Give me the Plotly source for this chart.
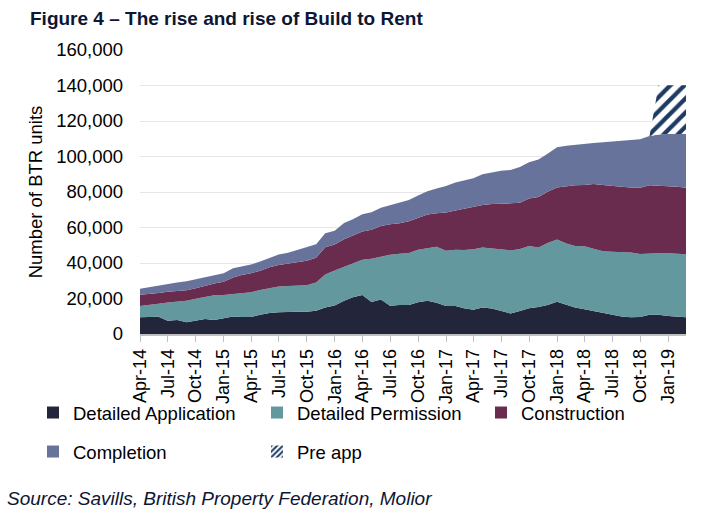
import pandas as pd
import plotly.graph_objects as go

months = pd.date_range("2014-04-01", periods=60, freq="MS")

# values in thousands of BTR units
detailed_application = [
    9.4, 9.6, 9.7, 7.5, 7.9, 6.6, 7.4, 8.5, 7.9, 8.7,
    9.9, 9.6, 9.6, 10.8, 11.8, 12.2, 12.6, 12.6, 12.6, 13.1,
    15.0, 16.0, 18.8, 20.7, 22.0, 18.0, 19.5, 15.9, 16.3, 16.3,
    17.9, 18.8, 17.6, 15.8, 15.8, 14.5, 13.7, 15.0, 14.3, 12.9,
    11.6, 12.9, 14.5, 15.2, 16.3, 18.2, 16.3, 15.0, 13.9, 12.9,
    12.1, 11.3, 9.9, 9.5, 9.6, 10.9, 10.9, 10.2, 9.9, 9.4]
detailed_permission = [
    6.4, 6.7, 7.3, 10.3, 10.4, 12.2, 12.4, 12.5, 13.9, 13.3,
    12.7, 13.3, 13.9, 14.0, 14.2, 14.6, 14.4, 14.4, 14.8, 15.9,
    18.5, 19.8, 19.2, 19.1, 19.9, 24.4, 24.2, 28.8, 28.9, 29.4,
    29.5, 29.6, 31.6, 31.1, 31.6, 32.8, 34.0, 33.8, 33.8, 34.6,
    35.5, 35.0, 35.1, 33.6, 35.0, 35.1, 34.7, 34.6, 35.6, 35.1,
    34.5, 35.0, 36.4, 36.4, 35.5, 34.6, 34.6, 35.3, 35.5, 35.6]
construction = [
    6.3, 6.1, 6.1, 6.0, 6.0, 5.8, 6.0, 6.2, 6.6, 7.5,
    9.3, 10.3, 10.7, 10.9, 11.6, 12.1, 12.8, 13.4, 13.9, 14.0,
    15.4, 14.6, 15.4, 15.7, 15.8, 16.3, 17.1, 17.2, 17.2, 17.8,
    17.8, 18.9, 18.8, 21.6, 22.2, 23.3, 23.7, 23.9, 25.1, 25.8,
    26.5, 26.1, 26.8, 28.4, 28.9, 29.3, 32.3, 34.2, 34.5, 36.5,
    37.4, 37.1, 36.7, 36.7, 37.3, 38.3, 37.9, 37.8, 37.6, 37.4]
completion = [
    3.4, 4.0, 4.1, 4.5, 4.7, 5.1, 5.0, 4.7, 4.7, 4.7,
    5.2, 4.9, 4.9, 5.1, 5.2, 5.9, 6.0, 6.9, 7.3, 7.5,
    7.8, 7.8, 9.2, 9.1, 9.7, 9.9, 10.3, 10.6, 11.4, 12.0,
    12.8, 13.1, 14.0, 14.9, 15.7, 15.7, 16.3, 17.3, 17.7, 18.7,
    18.8, 20.1, 20.4, 21.1, 21.4, 22.6, 22.7, 22.8, 23.2, 23.1,
    24.0, 25.0, 25.8, 26.7, 27.3, 27.7, 29.0, 29.4, 29.7, 30.3]
pre_app = [0.0] * 56 + [27.8, 27.5, 27.5, 27.5]

series_names = ["Detailed Application", "Detailed Permission", "Construction", "Completion", "Pre app"]
series_values = [detailed_application, detailed_permission, construction, completion, pre_app]
colors = ["#23263a", "#63989f", "#6a2c4e", "#68739b", "#1f3a60"]

FONT = "Liberation Sans, Arial, sans-serif"

fig = go.Figure()
for name, vals, col in zip(series_names, series_values, colors):
    y = [v * 1000 for v in vals]
    if name == "Pre app":
        fig.add_trace(go.Scatter(
            x=months, y=y, name=name, stackgroup="one", mode="lines",
            line=dict(width=0, color=col), fillcolor=col,
            fillpattern=dict(shape="/", fgcolor=col, bgcolor="white", fgopacity=1,
                             size=10, solidity=0.42),
            showlegend=False, hoverinfo="skip"))
    else:
        fig.add_trace(go.Scatter(
            x=months, y=y, name=name, stackgroup="one", mode="lines",
            line=dict(width=0, color=col), fillcolor=col,
            showlegend=False))

# legend entries (square swatches)
for k, (name, col) in enumerate(zip(series_names, colors)):
    marker = dict(color=col, line=dict(width=0))
    if name == "Pre app":
        marker = dict(color=col, line=dict(width=0),
                      pattern=dict(shape="/", fgcolor=col, bgcolor="white", fgopacity=1,
                                   size=5, solidity=0.5))
    fig.add_trace(go.Bar(x=[None], y=[None], name=name, marker=marker,
                         legend="legend" if k < 3 else "legend2", showlegend=True))

leg_common = dict(orientation="h", xanchor="left", yanchor="middle", traceorder="normal",
                  font=dict(family=FONT, size=18.5, color="black"),
                  entrywidth=179, entrywidthmode="pixels", bgcolor="rgba(0,0,0,0)",
                  itemsizing="constant")

fig.update_layout(
    width=721, height=519,
    margin=dict(l=140, r=35, t=50, b=185),
    paper_bgcolor="white", plot_bgcolor="white",
    font=dict(family=FONT, size=18.5, color="black"),
    title=dict(text="<b>Figure 4 – The rise and rise of Build to Rent</b>",
               x=30 / 721, xref="container", xanchor="left",
               y=1 - 18 / 519, yref="container", yanchor="middle",
               font=dict(family=FONT, size=19, color="#0d1633")),
    showlegend=True,
    legend=dict(x=(33 - 140) / 546, y=(334 - 413) / 284, **leg_common),
    legend2=dict(x=(33 - 140) / 546, y=(334 - 452) / 284, **leg_common),
    xaxis=dict(type="date", range=[months[0], months[-1]],
               tick0=months[0], dtick="M3", tickformat="%b-%y", tickangle=-90,
               ticks="outside", ticklen=6, tickcolor="#bfbfbf",
               showline=True, linecolor="#bfbfbf", linewidth=1.5,
               showgrid=False, tickfont=dict(family=FONT, size=18, color="black")),
    yaxis=dict(range=[0, 160000], dtick=20000, tickformat=",d",
               showgrid=True, gridcolor="#e6e6e6", gridwidth=1,
               zeroline=False, showline=False, ticks="",
               ticklabelstandoff=16,
               tickfont=dict(family=FONT, size=18.5, color="black"),
               title=dict(text="Number of BTR units", standoff=8,
                          font=dict(family=FONT, size=18.5, color="black"))),
    annotations=[dict(text="<i>Source: Savills, British Property Federation, Molior</i>",
                      xref="paper", yref="paper", x=(5 - 140) / 546, y=(334 - 498) / 284,
                      xanchor="left", yanchor="middle", showarrow=False,
                      font=dict(family=FONT, size=19, color="#0d1633"))],
)

fig.write_html("out.html")
